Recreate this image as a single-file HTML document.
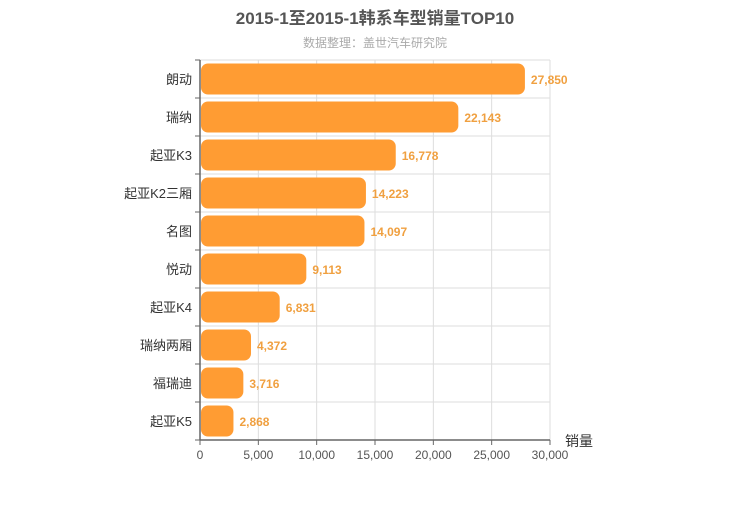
<!DOCTYPE html>
<html><head><meta charset="utf-8"><style>
body{margin:0;background:#fff;width:750px;height:500px;overflow:hidden;font-family:"Liberation Sans","Noto Sans CJK SC",sans-serif}
svg text{font-family:"Liberation Sans","Noto Sans CJK SC",sans-serif}
</style></head><body>
<svg id="chart" width="750" height="500">
<text x="375" y="24" text-anchor="middle" font-size="17" font-weight="bold" fill="#555">2015-1至2015-1韩系车型销量TOP10</text>
<text x="375" y="47" text-anchor="middle" font-size="12" fill="#aaa">数据整理：盖世汽车研究院</text>
<g id="grid"></g><g id="bars"></g><g id="axes"></g>
</svg>
<script>
const categories=["朗动","瑞纳","起亚K3","起亚K2三厢","名图","悦动","起亚K4","瑞纳两厢","福瑞迪","起亚K5"];
const values=[27850,22143,16778,14223,14097,9113,6831,4372,3716,2868];
const xTicks=[0,5000,10000,15000,20000,25000,30000];
const NS="http://www.w3.org/2000/svg";
const L=200,R=550,T=60,B=440,XMAX=30000;
const x=v=>L+v/XMAX*(R-L);
const band=(B-T)/categories.length;
const y=i=>T+i*band;
function mk(tag,attrs,parent,text){const e=document.createElementNS(NS,tag);for(const k in attrs)e.setAttribute(k,attrs[k]);if(text!==undefined)e.textContent=text;document.getElementById(parent).appendChild(e);return e;}
xTicks.forEach(t=>{
  const g=mk("line",{x1:x(t),x2:x(t),y1:T,y2:B,stroke:"#ddd","stroke-width":1},"grid");
  
  
  const tk=mk("line",{x1:x(t),x2:x(t),y1:B,y2:B+5,stroke:"#666"},"axes");
  
  
  const lb=mk("text",{x:x(t),y:B+19,"text-anchor":"middle","font-size":12,fill:"#555"},"axes",t.toLocaleString("en-US"));
  
  
});
for(let i=0;i<=categories.length;i++){
  const g=mk("line",{x1:L,x2:R,y1:y(i),y2:y(i),stroke:"#ddd"},"grid");
  
  
  const tk=mk("line",{x1:L-5,x2:L,y1:y(i),y2:y(i),stroke:"#666"},"axes");
  
  
}
categories.forEach((c,i)=>{
  const cy=y(i)+band/2;
  const r=mk("rect",{x:L+1,y:cy-15.5,width:Math.max(0,x(values[i])-L-1),height:31,rx:7,ry:7,fill:"#ff9c33"},"bars");
  
  
  const v=mk("text",{x:x(values[i])+6,y:cy+5,"font-size":12,fill:"#f0a040","font-weight":"bold"},"bars",values[i].toLocaleString("en-US"));
  
  
  const lb=mk("text",{x:L-8,y:cy+5,"text-anchor":"end","font-size":13,fill:"#333"},"axes",c);
  
  
});
const ya=mk("line",{x1:L,x2:L,y1:T,y2:B,stroke:"#666","stroke-width":1.5},"axes");


const xa=mk("line",{x1:L,x2:R,y1:B,y2:B,stroke:"#666","stroke-width":1.5},"axes");


const xt=mk("text",{x:565,y:446,"font-size":14,fill:"#333"},"axes","销量");


</script>
</body></html>
